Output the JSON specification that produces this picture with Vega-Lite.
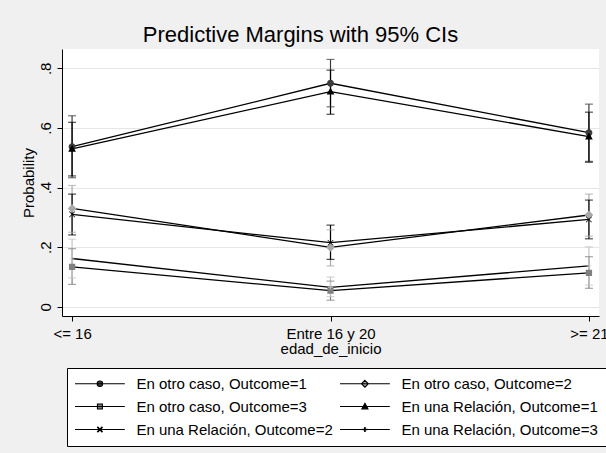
{
  "$schema": "https://vega.github.io/schema/vega-lite/v6.json",
  "width": 537,
  "height": 267,
  "autosize": {"type": "none"},
  "padding": {"left": 62, "top": 49, "right": 7, "bottom": 137},
  "background": "#f0f0f0",
  "config": {
    "font": "Liberation Sans",
    "view": {"fill": "white", "stroke": null},
    "axis": {
      "labelFont": "Liberation Sans",
      "titleFont": "Liberation Sans",
      "labelColor": "black",
      "titleColor": "black",
      "domainColor": "black",
      "tickColor": "black",
      "labelFontSize": 15,
      "titleFontSize": 15,
      "titleFontWeight": "normal",
      "tickSize": 5,
      "domainWidth": 1,
      "tickWidth": 1
    }
  },
  "title": {
    "text": "Predictive Margins with 95% CIs",
    "font": "Liberation Sans",
    "fontSize": 22,
    "fontWeight": "normal",
    "color": "black",
    "dx": -30,
    "offset": 2
  },
  "data": {
    "values": [
      {"edad": "<= 16", "xi": 0, "series": "En otro caso, Outcome=1", "m": 0.537, "lo": 0.433, "hi": 0.641},
      {"edad": "Entre 16 y 20", "xi": 1, "series": "En otro caso, Outcome=1", "m": 0.750, "lo": 0.671, "hi": 0.830},
      {"edad": ">= 21", "xi": 2, "series": "En otro caso, Outcome=1", "m": 0.584, "lo": 0.488, "hi": 0.680},
      {"edad": "<= 16", "xi": 0, "series": "En otro caso, Outcome=2", "m": 0.330, "lo": 0.250, "hi": 0.407},
      {"edad": "Entre 16 y 20", "xi": 1, "series": "En otro caso, Outcome=2", "m": 0.199, "lo": 0.137, "hi": 0.258},
      {"edad": ">= 21", "xi": 2, "series": "En otro caso, Outcome=2", "m": 0.308, "lo": 0.237, "hi": 0.378},
      {"edad": "<= 16", "xi": 0, "series": "En otro caso, Outcome=3", "m": 0.134, "lo": 0.075, "hi": 0.195},
      {"edad": "Entre 16 y 20", "xi": 1, "series": "En otro caso, Outcome=3", "m": 0.054, "lo": 0.022, "hi": 0.086},
      {"edad": ">= 21", "xi": 2, "series": "En otro caso, Outcome=3", "m": 0.114, "lo": 0.062, "hi": 0.168},
      {"edad": "<= 16", "xi": 0, "series": "En una Relación, Outcome=1", "m": 0.530, "lo": 0.439, "hi": 0.619},
      {"edad": "Entre 16 y 20", "xi": 1, "series": "En una Relación, Outcome=1", "m": 0.722, "lo": 0.646, "hi": 0.794},
      {"edad": ">= 21", "xi": 2, "series": "En una Relación, Outcome=1", "m": 0.571, "lo": 0.485, "hi": 0.653},
      {"edad": "<= 16", "xi": 0, "series": "En una Relación, Outcome=2", "m": 0.310, "lo": 0.241, "hi": 0.378},
      {"edad": "Entre 16 y 20", "xi": 1, "series": "En una Relación, Outcome=2", "m": 0.215, "lo": 0.159, "hi": 0.274},
      {"edad": ">= 21", "xi": 2, "series": "En una Relación, Outcome=2", "m": 0.293, "lo": 0.228, "hi": 0.358},
      {"edad": "<= 16", "xi": 0, "series": "En una Relación, Outcome=3", "m": 0.162, "lo": 0.097, "hi": 0.227},
      {"edad": "Entre 16 y 20", "xi": 1, "series": "En una Relación, Outcome=3", "m": 0.065, "lo": 0.034, "hi": 0.100},
      {"edad": ">= 21", "xi": 2, "series": "En una Relación, Outcome=3", "m": 0.137, "lo": 0.073, "hi": 0.201}
    ]
  },
  "encoding": {
    "x": {
      "field": "edad",
      "type": "ordinal",
      "sort": ["<= 16", "Entre 16 y 20", ">= 21"],
      "scale": {"type": "point", "padding": 0.039},
      "axis": {"labelAngle": 0, "title": "edad_de_inicio", "grid": false, "labelPadding": 5, "titlePadding": 0}
    }
  },
  "layer": [
    {
      "mark": {"type": "rule", "strokeWidth": 1.2},
      "encoding": {
        "y": {
          "field": "lo",
          "type": "quantitative",
          "scale": {"domain": [-0.031, 0.865], "nice": false, "zero": false},
          "axis": {
            "values": [0, 0.2, 0.4, 0.6, 0.8],
            "labelExpr": "datum.value == 0 ? '0' : '.' + format(datum.value * 10, '.0f')",
            "labelAngle": -90,
            "labelAlign": "center",
            "labelBaseline": "bottom",
            "labelPadding": 4,
            "title": "Probability",
            "titlePadding": 2,
            "grid": true,
            "gridColor": "#e6e6e6",
            "gridWidth": 1
          }
        },
        "y2": {"field": "hi"},
        "color": {
          "field": "series",
          "type": "nominal",
          "legend": null,
          "scale": {
            "domain": ["En otro caso, Outcome=1", "En otro caso, Outcome=2", "En otro caso, Outcome=3", "En una Relación, Outcome=1", "En una Relación, Outcome=2", "En una Relación, Outcome=3"],
            "range": ["#3c3c3c", "#a8a8a8", "#808080", "#000000", "#000000", "#c4c4c4"]
          }
        }
      }
    },
    {
      "mark": {"type": "tick", "size": 8, "thickness": 1.2},
      "encoding": {
        "y": {"field": "lo", "type": "quantitative"},
        "color": {"field": "series", "type": "nominal", "legend": null}
      }
    },
    {
      "mark": {"type": "tick", "size": 8, "thickness": 1.2},
      "encoding": {
        "y": {"field": "hi", "type": "quantitative"},
        "color": {"field": "series", "type": "nominal", "legend": null}
      }
    },
    {
      "mark": {"type": "line", "color": "black", "strokeWidth": 1.3},
      "encoding": {
        "y": {"field": "m", "type": "quantitative"},
        "detail": {"field": "series"},
        "order": {"field": "xi", "type": "quantitative"}
      }
    },
    {
      "mark": {"type": "point", "filled": true, "size": 49, "opacity": 1, "strokeWidth": 0},
      "encoding": {
        "y": {"field": "m", "type": "quantitative"},
        "color": {
          "field": "series",
          "type": "nominal",
          "legend": {
            "orient": "none",
            "legendX": 5,
            "legendY": 319,
            "direction": "horizontal",
            "columns": 2,
            "title": null,
            "symbolSize": 30,
            "symbolStrokeColor": "black",
            "symbolStrokeWidth": 1.1,
            "symbolOffset": 17.4,
            "labelOffset": 29,
            "labelFont": "Liberation Sans",
            "labelFontSize": 15,
            "labelColor": "black",
            "labelLimit": 400,
            "columnPadding": 4,
            "rowPadding": 7,
            "padding": 8,
            "strokeColor": "black",
            "fillColor": "white"
          }
        },
        "shape": {
          "field": "series",
          "type": "nominal",
          "scale": {
            "domain": ["En otro caso, Outcome=1", "En otro caso, Outcome=2", "En otro caso, Outcome=3", "En una Relación, Outcome=1", "En una Relación, Outcome=2", "En una Relación, Outcome=3"],
            "range": [
              "M-9.1,0H9.1M-1,0A1,1 0 1,0 1,0A1,1 0 1,0 -1,0Z",
              "M-9.1,0H9.1M0,-1.25L1.25,0L0,1.25L-1.25,0Z",
              "M-9.1,0H9.1M-0.9,-0.9H0.9V0.9H-0.9Z",
              "M-9.1,0H9.1M0,-1.15L1.1,0.85H-1.1Z",
              "M-9.1,0H9.1M-0.73,-0.87L0.87,0.73L0.73,0.87L-0.87,-0.73ZM0.73,-0.87L0.87,-0.73L-0.73,0.87L-0.87,0.73Z",
              "M-9.1,0H9.1M-0.7,-0.1H0.7V0.1H-0.7ZM-0.1,-0.7H0.1V0.7H-0.1Z"
            ]
          },
          "legend": {
            "orient": "none",
            "legendX": 5,
            "legendY": 319,
            "direction": "horizontal",
            "columns": 2,
            "title": null,
            "symbolSize": 30,
            "symbolStrokeColor": "black",
            "symbolStrokeWidth": 1.1,
            "symbolOffset": 17.4,
            "labelOffset": 29,
            "labelFont": "Liberation Sans",
            "labelFontSize": 15,
            "labelColor": "black",
            "labelLimit": 400,
            "columnPadding": 4,
            "rowPadding": 7,
            "padding": 8,
            "strokeColor": "black",
            "fillColor": "white"
          }
        }
      }
    }
  ],
  "resolve": {"legend": {"color": "independent", "shape": "independent"}}
}
